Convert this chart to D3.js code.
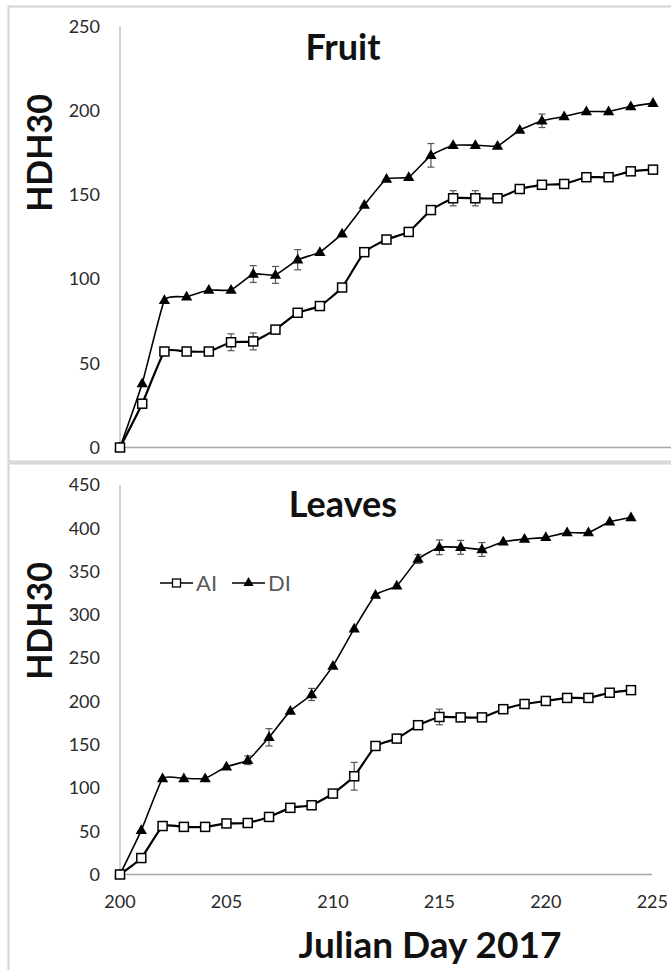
<!DOCTYPE html>
<html>
<head>
<meta charset="utf-8">
<script src="https://cdn.jsdelivr.net/npm/d3@7"></script>
<style>
  body { margin: 0; background: #fff; }
  text { font-family: Lato, "Open Sans", sans-serif; }
</style>
</head>
<body>
<script>
// days for both panels
const days = d3.range(200, 225);

// Fruit panel
const fruitAI = [0, 26, 57, 57, 57, 62.5, 63, 70, 80, 84, 95, 116, 123.5, 128, 141, 148, 148, 148, 153.5, 156, 156.5, 160.5, 160.5, 164, 165];
const fruitDI = [0, 38, 87.5, 89.5, 93.5, 93.5, 103, 102.5, 111.5, 116, 127, 144, 159.5, 160.5, 173.5, 179.5, 179.5, 179, 188.5, 194, 196.5, 199.5, 199.5, 202.5, 204.5];
const fruitAIerr = [0, 0, 0, 0, 0, 5, 5, 0, 0, 0, 0, 0, 0, 0, 0, 4.5, 4.5, 0, 0, 0, 0, 0, 0, 0, 0];
const fruitDIerr = [0, 0, 0, 0, 0, 0, 5, 5, 6, 0, 0, 0, 0, 0, 7, 0, 0, 0, 0, 4, 0, 0, 0, 0, 0];

// Leaves panel
const leavesAI = [0, 19, 56, 55, 55, 59, 59.5, 66.5, 77, 80, 93.5, 113.5, 148.5, 157, 172.5, 182, 181.5, 181.5, 191, 197, 200.5, 204, 204, 210, 213];
const leavesDI = [0, 51, 111, 111, 111, 124.5, 132, 158.5, 189, 208, 241, 284, 323, 333.5, 364.5, 378, 378, 375.5, 384.5, 387.5, 389.5, 395, 395, 407.5, 412.5];
const leavesAIerr = [0, 0, 0, 0, 0, 0, 0, 5, 0, 0, 0, 16, 0, 0, 0, 9, 0, 0, 0, 0, 0, 0, 0, 0, 0];
const leavesDIerr = [0, 0, 0, 0, 0, 0, 5, 10, 0, 7, 0, 0, 0, 0, 5, 8.5, 8, 8, 0, 0, 0, 0, 0, 0, 0];

const fruitTicks = [0, 50, 100, 150, 200, 250];
const leavesTicks = [0, 50, 100, 150, 200, 250, 300, 350, 400, 450];
const xTicks = [200, 205, 210, 215, 220, 225];

const W = 671, H = 970;
const svg = d3.select('body').append('svg')
    .attr('width', W)
    .attr('height', H);

// panel frames
svg.append('rect').attr('x', 8.5).attr('y', 6.5).attr('width', 680).attr('height', 455)
    .attr('fill', 'none').attr('stroke', '#d4d4d4').attr('stroke-width', 2);
svg.append('rect').attr('x', 8.5).attr('y', 463.5).attr('width', 680).attr('height', 520)
    .attr('fill', 'none').attr('stroke', '#d4d4d4').attr('stroke-width', 2);

function panel(opts) {
    const g = svg.append('g');
    const x = d3.scaleLinear().domain([200, 224]).range(opts.xRange);
    const y = d3.scaleLinear().domain([0, opts.yMax]).range([opts.y0, opts.yTop]);

    // axis lines
    g.append('line').attr('x1', x(200)).attr('x2', x(200))
        .attr('y1', y(opts.yMax)).attr('y2', y(0))
        .attr('stroke', '#a6a6a6').attr('stroke-width', 1);
    g.append('line').attr('x1', x(200)).attr('x2', opts.xAxisEnd)
        .attr('y1', y(0)).attr('y2', y(0))
        .attr('stroke', '#a6a6a6').attr('stroke-width', 1.5);

    // y tick labels
    g.selectAll('.ytick').data(opts.ticks).enter().append('text')
        .attr('x', 100).attr('y', d => y(d))
        .attr('dy', '0.35em')
        .attr('text-anchor', 'end')
        .attr('font-size', 18)
        .attr('fill', '#2a2a2a')
        .text(d => d);

    // y title
    g.append('text')
        .attr('transform', `translate(52,${opts.yTitleY}) rotate(-90)`)
        .attr('text-anchor', 'middle')
        .attr('font-size', 34)
        .attr('font-weight', 'bold')
        .attr('fill', '#111')
        .text('HDH30');

    // panel title
    g.append('text')
        .attr('x', 343).attr('y', opts.titleY)
        .attr('text-anchor', 'middle')
        .attr('font-size', 36)
        .attr('font-weight', 'bold')
        .attr('fill', '#111')
        .text(opts.title);

    const line = d3.line()
        .x((d, i) => x(days[i]))
        .y(d => y(d))
        .curve(d3.curveCardinal.tension(0.6));

    const series = [
        { vals: opts.di, err: opts.diErr, width: 1.6, kind: 'tri' },
        { vals: opts.ai, err: opts.aiErr, width: 2.2, kind: 'sq' }
    ];

    series.forEach(s => {
        // error bars
        const eb = g.append('g').selectAll('g')
            .data(s.vals.map((v, i) => ({ d: days[i], v, e: s.err[i] })).filter(p => p.e > 0))
            .enter().append('g').attr('stroke', '#555').attr('stroke-width', 1.2);
        eb.append('line').attr('x1', p => x(p.d)).attr('x2', p => x(p.d))
            .attr('y1', p => y(p.v - p.e)).attr('y2', p => y(p.v + p.e));
        eb.append('line').attr('x1', p => x(p.d) - 3.5).attr('x2', p => x(p.d) + 3.5)
            .attr('y1', p => y(p.v + p.e)).attr('y2', p => y(p.v + p.e));
        eb.append('line').attr('x1', p => x(p.d) - 3.5).attr('x2', p => x(p.d) + 3.5)
            .attr('y1', p => y(p.v - p.e)).attr('y2', p => y(p.v - p.e));

        g.append('path').datum(s.vals)
            .attr('d', line)
            .attr('fill', 'none')
            .attr('stroke', '#000')
            .attr('stroke-width', s.width);

        if (s.kind === 'sq') {
            g.selectAll(null).data(s.vals).enter().append('rect')
                .attr('x', (d, i) => x(days[i]) - 4.5)
                .attr('y', d => y(d) - 4.5)
                .attr('width', 9).attr('height', 9)
                .attr('fill', '#fff').attr('stroke', '#000').attr('stroke-width', 1.5);
        } else {
            g.selectAll(null).data(s.vals).enter().append('path')
                .attr('d', d3.symbol(d3.symbolTriangle, 55))
                .attr('transform', (d, i) => `translate(${x(days[i])},${y(d) + 0.5})`)
                .attr('fill', '#000');
        }
    });

    return { g, x, y };
}

panel({
    title: 'Fruit', titleY: 60,
    xRange: [120, 653], xAxisEnd: 671,
    yMax: 250, y0: 447.5, yTop: 26.5, ticks: fruitTicks, yTitleY: 153,
    ai: fruitAI, di: fruitDI, aiErr: fruitAIerr, diErr: fruitDIerr
});

panel({
    title: 'Leaves', titleY: 517,
    xRange: [120, 631], xAxisEnd: 652,
    yMax: 450, y0: 874.5, yTop: 485, ticks: leavesTicks, yTitleY: 621,
    ai: leavesAI, di: leavesDI, aiErr: leavesAIerr, diErr: leavesDIerr
});

// x tick labels for bottom panel (scale extended to 225)
const xb = d3.scaleLinear().domain([200, 225]).range([120, 120 + 25 * (631 - 120) / 24]);
svg.selectAll('.xtick').data(xTicks).enter().append('text')
    .attr('x', d => xb(d)).attr('y', 908)
    .attr('text-anchor', 'middle')
    .attr('font-size', 18)
    .attr('fill', '#2a2a2a')
    .text(d => d);

svg.append('text')
    .attr('x', 430).attr('y', 958)
    .attr('text-anchor', 'middle')
    .attr('font-size', 37)
    .attr('font-weight', 'bold')
    .attr('fill', '#111')
    .text('Julian Day 2017');

// legend
const legend = svg.append('g').attr('transform', 'translate(160,583)');
const legendItems = [
    { name: 'AI', kind: 'sq', x: 0 },
    { name: 'DI', kind: 'tri', x: 72 }
];
legendItems.forEach(it => {
    const li = legend.append('g').attr('transform', `translate(${it.x},0)`);
    li.append('line').attr('x1', 0).attr('x2', 33).attr('y1', 0).attr('y2', 0)
        .attr('stroke', '#000').attr('stroke-width', 1.6);
    if (it.kind === 'sq') {
        li.append('rect').attr('x', 12.5).attr('y', -4).attr('width', 8).attr('height', 8)
            .attr('fill', '#fff').attr('stroke', '#000').attr('stroke-width', 1.3);
    } else {
        li.append('path').attr('d', d3.symbol(d3.symbolTriangle, 45))
            .attr('transform', 'translate(16.5,0)').attr('fill', '#000');
    }
    li.append('text').attr('x', 36).attr('y', 0).attr('dy', '0.35em')
        .attr('font-size', 22).attr('fill', '#595959')
        .text(it.name);
});
</script>
</body>
</html>
